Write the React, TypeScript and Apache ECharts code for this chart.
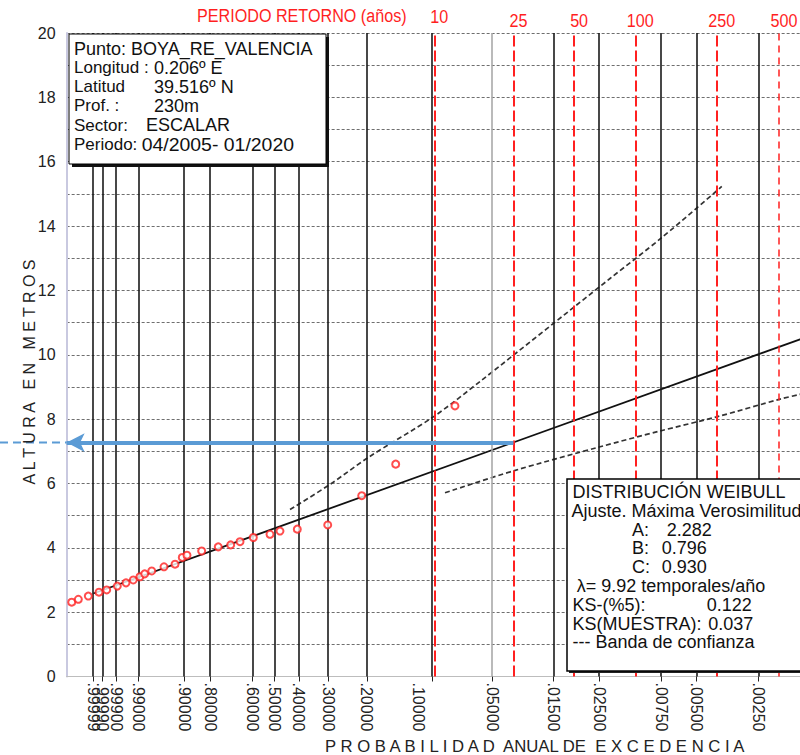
import React, { useEffect, useRef } from 'react';
import * as echarts from 'echarts';

const FONT = '"Liberation Sans", Arial, Helvetica, sans-serif';

// Horizontal axis is the Weibull reduced variable z (linear on the paper).
const Z_MIN = 0;
const Z_MAX = 10.596;

// Bottom probability labels and the z position of their grid lines
const probLabels = ['.99999', '.99990', '.99900', '.99000', '.90000', '.80000', '.60000', '.50000', '.40000', '.30000', '.20000', '.10000', '.05000', '.01500', '.02500', '.00750', '.00500', '.00250'];
const probLineZ = [0.374, 0.5, 0.693, 1.006, 1.651, 2.012, 2.608, 2.917, 3.258, 3.672, 4.215, 5.124, 5.974, 6.83, 7.472, 8.342, 8.841, 9.707];
const probLabelZ = [0.374, 0.5, 0.693, 1.006, 1.651, 2.012, 2.608, 2.917, 3.258, 3.672, 4.215, 4.935, 5.974, 6.83, 7.472, 8.342, 8.841, 9.707];

// Return periods (years) on top, and their z positions
const returnPeriods = ['10', '25', '50', '100', '250', '500'];
const returnZ = [5.16, 6.27, 7.122, 7.98, 9.125, 9.998];

// Observed storm peaks (reduced variable z, height in m)
const pointZ = [0.071, 0.164, 0.304, 0.454, 0.562, 0.711, 0.833, 0.935, 1.029, 1.095, 1.194, 1.366, 1.521, 1.623, 1.689, 1.895, 2.128, 2.302, 2.433, 2.62, 2.854, 2.994, 3.237, 3.664, 4.141, 4.618, 5.45];
const pointH = [2.31, 2.4, 2.5, 2.62, 2.69, 2.81, 2.91, 3.0, 3.1, 3.19, 3.28, 3.41, 3.49, 3.7, 3.77, 3.9, 4.03, 4.09, 4.19, 4.32, 4.42, 4.52, 4.58, 4.71, 5.62, 6.6, 8.41];

// Fitted Weibull line (end points) and confidence bands
const fitZ = [0.374, 10.596];
const fitH = [2.58, 10.72];
const upperZ = [3.135, 3.696, 4.234, 5.146, 5.825, 7.626, 8.352, 9.194];
const upperH = [5.19, 5.97, 6.81, 8.07, 9.21, 12.37, 13.64, 15.23];
const lowerZ = [5.31, 6.269, 7.486, 8.328, 9.123, 10.012, 10.293, 10.596];
const lowerH = [5.71, 6.39, 7.14, 7.63, 8.07, 8.62, 8.77, 8.93];

// Blue arrow: 25-year height read back to the axis
const arrowZ = [6.27, 0.0];
const arrowH = 7.27;

// Text blocks
const infoLabels = ['Punto: BOYA_RE_VALENCIA', 'Longitud :', 'Latitud', 'Prof. :', 'Sector:', 'Periodo:'];
const infoValues = ['', '0.206º E', '39.516º N', '230m', 'ESCALAR', '04/2005- 01/2020'];
const weibullLines = ['DISTRIBUCIÓN WEIBULL', 'Ajuste. Máxima Verosimilitud'];
const paramNames = ['A:', 'B:', 'C:'];
const paramValues = ['2.282', '0.796', '0.930'];

const pair = (zs: number[], hs: number[]) => zs.map((z, i) => [z, hs[i]]);

export default function App() {
  const ref = useRef<HTMLDivElement>(null);

  useEffect(() => {
    document.body.style.margin = '0';
    document.body.style.overflow = 'hidden';
    document.documentElement.style.overflow = 'hidden';
    const chart = echarts.init(ref.current!, null, { renderer: 'svg' });

    const vLines = probLineZ.map((z, i) => ({
      xAxis: z,
      lineStyle: { color: i === 12 ? '#a9a9a9' : '#1a1a1a', width: 1.6, type: 'solid' },
    }));
    const rLines = returnZ.map((z, i) => ({
      xAxis: z,
      lineStyle: { color: '#ff2020', width: i === 5 ? 1.5 : 2, type: i === 5 ? [7, 5] : [11, 4] },
    }));

    const option: any = {
      animation: false,
      grid: { left: 66.65, top: 33, width: 755, height: 643.5, outerBoundsMode: 'none', containLabel: false },
      xAxis: {
        type: 'value',
        min: Z_MIN,
        max: Z_MAX,
        axisLine: { show: true, lineStyle: { color: '#bdbdbd', width: 1 } },
        axisTick: { show: true, customValues: probLineZ, length: 5, lineStyle: { color: '#222', width: 1 } },
        axisLabel: { show: false },
        splitLine: { show: false },
      },
      yAxis: {
        type: 'value',
        min: 0,
        max: 20,
        interval: 2,
        axisLine: { show: true, lineStyle: { color: '#c9c9e0', width: 2 } },
        axisTick: { show: false },
        axisLabel: { fontSize: 16, fontFamily: FONT, color: '#222', margin: 11 },
        splitLine: { show: true, lineStyle: { color: '#6f6f6f', type: [3, 2], width: 1 } },
        minorTick: { show: false, splitNumber: 2 },
        minorSplitLine: { show: true, lineStyle: { color: '#6f6f6f', type: [3, 2], width: 1 } },
      },
      series: [
        {
          type: 'line',
          data: [],
          z: 1,
          silent: true,
          markLine: {
            silent: true,
            symbol: ['none', 'none'],
            label: { show: false },
            emphasis: { disabled: true },
            data: [...vLines, ...rLines],
          },
        },
        {
          type: 'line',
          data: pair(upperZ, upperH),
          smooth: 0.3,
          symbol: 'none',
          z: 3,
          lineStyle: { color: '#333', width: 1.7, type: [5, 3] },
        },
        {
          type: 'line',
          data: pair(lowerZ, lowerH),
          smooth: 0.3,
          symbol: 'none',
          z: 3,
          lineStyle: { color: '#333', width: 1.7, type: [5, 3] },
        },
        {
          type: 'line',
          data: pair(fitZ, fitH),
          symbol: 'none',
          z: 3,
          lineStyle: { color: '#111', width: 1.8 },
        },
        {
          type: 'line',
          data: [],
          z: 4,
          markLine: {
            silent: true,
            symbol: ['none', 'arrow'],
            symbolSize: [14, 18],
            label: { show: false },
            emphasis: { disabled: true },
            lineStyle: { color: '#5b9bd5', width: 4, type: 'solid' },
            data: [[{ coord: [arrowZ[0], arrowH] }, { coord: [arrowZ[1], arrowH] }]],
          },
        },
        {
          type: 'scatter',
          data: pair(pointZ, pointH),
          symbol: 'circle',
          symbolSize: 7,
          z: 6,
          itemStyle: { color: '#fff', borderColor: '#ff2020', borderWidth: 2 },
        },
      ],
    };
    chart.setOption(option);

    const toPx = (z: number, h: number) => chart.convertToPixel({ gridIndex: 0 }, [z, h]) as number[];
    const arrowEnd = toPx(arrowZ[1], arrowH);
    const baseY = toPx(0, 0)[1];

    const txt = (text: string, x: number, y: number, extra: any = {}, st: any = {}) => ({
      type: 'text',
      x,
      y,
      z: 30,
      silent: true,
      ...extra,
      style: { text, fill: '#111', fontSize: 18, fontFamily: FONT, align: 'left', verticalAlign: 'middle', ...st },
    });

    const graphics: any[] = [];
    // dashed extension of the blue arrow
    graphics.push({
      type: 'line',
      z: 20,
      silent: true,
      shape: { x1: 0, y1: arrowEnd[1], x2: arrowEnd[0], y2: arrowEnd[1] },
      style: { stroke: '#5b9bd5', lineWidth: 2, lineDash: [8, 5] },
    });
    // bottom probability labels
    probLabels.forEach((t, i) => {
      const px = toPx(probLabelZ[i], 0)[0];
      graphics.push(txt(t, px, baseY + 6, { rotation: -Math.PI / 2 }, { fontSize: 16, fill: '#222' }));
    });
    // info box
    graphics.push({ type: 'rect', z: 20, silent: true, shape: { x: 72, y: 37, width: 257, height: 130 }, style: { fill: '#111' } });
    graphics.push({ type: 'rect', z: 21, silent: true, shape: { x: 69, y: 34, width: 257, height: 130 }, style: { fill: '#fff', stroke: '#000', lineWidth: 1 } });
    const infoY = [48.5, 67.5, 86.7, 105.9, 125.1, 144.3];
    const infoValX = [0, 154, 154, 154, 146, 141.7];
    infoLabels.forEach((t, i) => {
      graphics.push(txt(t, 74, infoY[i], {}, { fontSize: i === 0 ? 18 : 17 }));
      if (infoValues[i]) graphics.push(txt(infoValues[i], infoValX[i], infoY[i], i === 5 ? { scaleX: 1.08 } : {}));
    });
    // Weibull box
    graphics.push({ type: 'rect', z: 20, silent: true, shape: { x: 569, y: 481, width: 260, height: 192 }, style: { fill: '#222' } });
    graphics.push({ type: 'rect', z: 21, silent: true, shape: { x: 567, y: 479, width: 260, height: 192 }, style: { fill: '#fff', stroke: '#000', lineWidth: 1.5 } });
    graphics.push(txt(weibullLines[0], 572.5, 492.3));
    graphics.push(txt(weibullLines[1], 571.5, 511));
    const pY = [529.7, 548.4, 567.1];
    const pValX = [666.7, 661.7, 661.7];
    paramNames.forEach((p, i) => {
      graphics.push(txt(p, 632, pY[i]));
      graphics.push(txt(paramValues[i], pValX[i], pY[i]));
    });
    graphics.push(txt('λ= 9.92 temporales/año', 576.7, 586.2));
    graphics.push(txt('KS-(%5):', 572.5, 604.9));
    graphics.push(txt('0.122', 706.7, 604.9));
    graphics.push(txt('KS(MUESTRA):', 572.5, 623.6));
    graphics.push(txt('0.037', 708.3, 623.6));
    graphics.push(txt('--- Banda de confianza', 572.5, 642.3));
    // top red return period header
    graphics.push(txt('PERIODO RETORNO (años)', 197, 16, { scaleX: 0.85 }, { fill: '#ff1f1f', fontSize: 19 }));
    returnPeriods.forEach((t, i) => {
      const px = toPx(returnZ[i], 20)[0];
      graphics.push(txt(t, px + 5, i === 0 ? 17 : 21, { scaleX: 0.85 }, { fill: '#ff1f1f', fontSize: 19, align: 'center' }));
    });
    // axis names
    graphics.push(
      txt('A L T U R A   E N   M E T R O S', 29, 372, { rotation: Math.PI / 2 }, { fontSize: 16, align: 'center', fill: '#222' })
    );
    graphics.push(
      txt('P R O B A B I L I D A D  ANUAL DE  E X C E D E N C I A', 325, 746, {}, { fontSize: 16.7, fill: '#222' })
    );

    chart.setOption({ graphic: graphics });

    return () => chart.dispose();
  }, []);

  return <div ref={ref} style={{ position: 'absolute', left: 0, top: 0, width: 840, height: 755 }} />;
}
